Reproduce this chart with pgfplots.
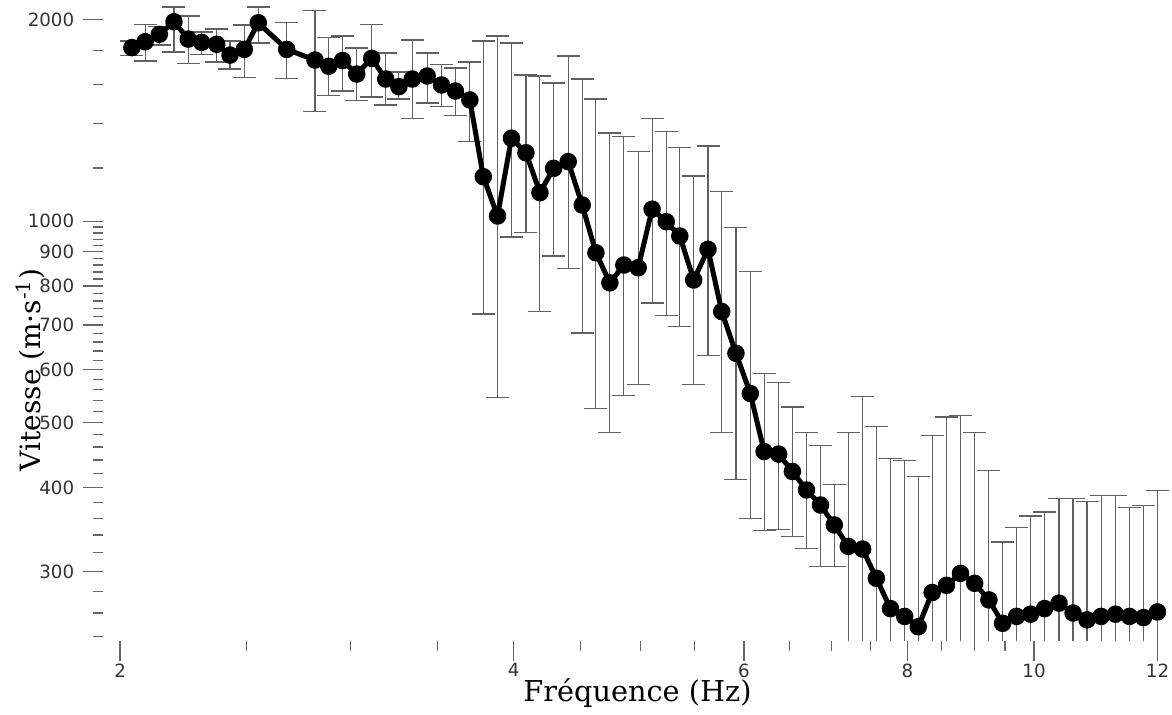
\documentclass[border=0pt]{standalone}
\usepackage{fontspec}
\setmainfont{DejaVu Serif}
\newfontfamily\tickfont{DejaVu Sans}
\usepackage{pgfplots}
\usepackage{pgfplotstable}
\pgfplotsset{compat=1.18}
\pgfplotstableread{
f v lo hi
2.042 1816 1766 1858
2.090 1853 1734 1969
2.143 1901 1832 1951
2.199 1985 1789 2088
2.255 1870 1722 2024
2.309 1849 1776 1916
2.371 1837 1728 1936
2.427 1770 1687 1858
2.489 1805 1641 1963
2.551 1978 1845 2088
2.682 1805 1634 1978
2.819 1740 1457 2061
2.888 1703 1539 1879
2.959 1737 1564 1890
3.034 1658 1512 1814
3.115 1750 1532 1969
3.193 1630 1491 1783
3.268 1588 1522 1670
3.346 1630 1421 1864
3.435 1647 1501 1783
3.523 1597 1481 1711
3.610 1564 1436 1693
3.703 1517 1313 1728
3.792 1165 727 1858
3.888 1018 546 1890
3.985 1330 947 1845
4.087 1265 963 1653
4.189 1103 734 1647
4.291 1199 887 1608
4.403 1227 849 1764
4.513 1057 681 1630
4.623 897 526 1522
4.738 809 484 1354
4.856 860 550 1336
4.980 852 571 1269
5.104 1042 755 1421
5.233 998 724 1359
5.359 950 697 1290
5.492 817 571 1168
5.632 908 631 1295
5.770 733 483 1109
5.916 635 411 977
6.068 553 360 840
6.217 453 345 593
6.378 449 347 575
6.534 423 338 528
6.699 397 325 483
6.866 377 305 462
7.035 352 305 405
7.210 327 200 483
7.394 324 200 548
7.577 293 200 493
7.767 264 200 442
7.964 257 200 439
8.155 248 200 416
8.358 279 200 478
8.571 286 200 510
8.785 298 200 512
9.007 288 200 483
9.236 272 200 424
9.461 251 200 332
9.697 257 200 349
9.939 259 200 363
10.187 264 200 368
10.450 269 200 386
10.711 260 200 386
10.978 254 200 381
11.253 257 200 389
11.543 259 200 390
11.831 257 200 374
12.126 256 200 376
12.429 261 200 396
}\vs
\begin{document}
\begin{tikzpicture}
\path[use as bounding box] (-41.2pt,-29.6pt) rectangle (427.6pt,256.4pt);
\begin{axis}[
  at={(0,0)}, anchor=south west,
  scale only axis, width=427.6pt, height=255.2pt,
  xmode=log, ymode=log,
  xmin=1.941, xmax=12.75, ymin=236.2, ymax=2117,
  axis x line*=bottom, axis y line*=left,
  axis line style={draw=none},
  tick align=outside,
  major tick length=8pt, minor tick length=4pt,
  tick style={black!60, line width=0.5pt},
  xtick={2,4,6,8,10,12.429}, xticklabels={2,4,6,8,10,12},
  minor xtick={2.5,3,3.5,4.5,5,5.5,6.5,7,7.5,8.5,9,9.5},
  ytick={300,400,500,600,700,800,900,1000,2000},
  yticklabels={300,400,500,600,700,800,900,1000,2000},
  minor ytick={240,260,280,320,340,360,380,420,440,460,480,520,540,560,580,620,640,660,680,720,740,760,780,820,840,860,880,920,940,960,980,1200,1400,1600,1800},
  tick label style={font=\tickfont\fontsize{7.3}{8.5}\selectfont, text=black!80},
  xticklabel style={yshift=2.5pt},
  xlabel={Fréquence (Hz)},
  xlabel style={at={(axis description cs:0.5,-0.0956)}, anchor=base, font=\fontsize{11.5}{13}\selectfont},
  ylabel={Vitesse (m·s\textsuperscript{-1})},
  ylabel style={at={(axis description cs:-0.0683,0.425)}, anchor=center, font=\fontsize{11.2}{13}\selectfont},
  clip=true,
]
\addplot[draw=none, forget plot,
  error bars/.cd, y dir=both, y explicit,
  error bar style={draw=black!62, line width=0.45pt, solid},
  error mark options={rotate=90, mark size=4.6pt, draw=black!62, line width=0.45pt}]
  table[x=f, y=v, y error plus expr=\thisrow{hi}-\thisrow{v}, y error minus expr=\thisrow{v}-\thisrow{lo}] {\vs};
\addplot[black, line width=2pt, line join=round, mark=*, mark size=2.5pt, mark options={fill=black, solid}]
  table[x=f, y=v] {\vs};
\end{axis}
\end{tikzpicture}
\end{document}
